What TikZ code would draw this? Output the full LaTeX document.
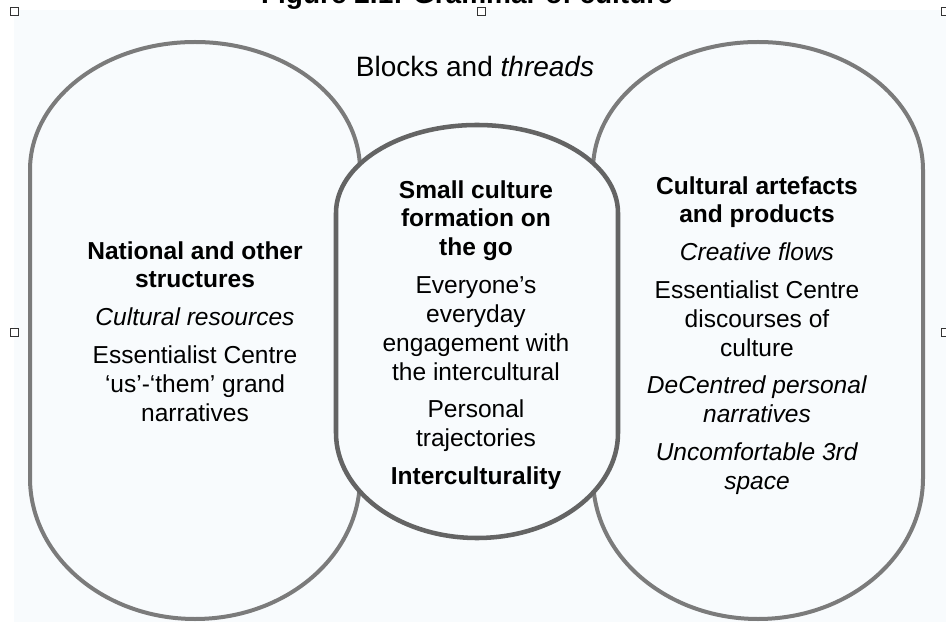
\documentclass[tikz,border=0pt]{standalone}
\usepackage{fontspec}
\setmainfont{Liberation Sans}
\usepackage{xcolor}
\usepackage{tikz}
\usetikzlibrary{positioning}
\definecolor{pale}{HTML}{F8FBFD}
\definecolor{rim}{HTML}{7B7B7B}
\definecolor{rimdark}{HTML}{646464}
\tikzstyle{blob}=[draw=rim, line width=3pt, fill=pale]
\tikzstyle{txt}=[align=center, inner sep=0pt, font=\fontsize{18.4}{21.7}\selectfont]
\tikzstyle{handle}=[draw=black!80, fill=white, line width=0.6pt, minimum size=6pt, inner sep=0pt]

\begin{document}
\begin{tikzpicture}[x=0.75pt,y=0.75pt]
				\useasboundingbox (0,0) rectangle (946,622);
				\fill[white] (0,0) rectangle (946,622);
				\fill[pale] (14,0) rectangle (946,612);
				% caption, mostly off the top edge
				\node[anchor=base, inner sep=0pt, font=\bfseries\fontsize{21}{25}\selectfont] (title) at (467,618) {Figure 2.1: Grammar of culture};
				% the two outer blocks
				\draw[blob] (30,452) arc[start angle=180, end angle=0, x radius=165, y radius=128] -- (360,144) arc[start angle=0, end angle=-180, x radius=165, y radius=141] -- cycle;
				\draw[blob] (593,452) arc[start angle=180, end angle=0, x radius=165, y radius=128] -- (923,144) arc[start angle=0, end angle=-180, x radius=165, y radius=141] -- cycle;
				% the thread in the middle, on top
				\draw[blob, draw=rimdark, line width=3.4pt] (336,409) arc[start angle=180, end angle=0, x radius=141, y radius=88] -- (618,189) arc[start angle=0, end angle=-180, x radius=141, y radius=105] -- cycle;
				\node[anchor=base, inner sep=0pt, font=\fontsize{21}{25}\selectfont] (blocks) at (475,545) {Blocks and \textit{threads}};
				\node[txt, anchor=north] (structures) at (195,381) {\textbf{National and other}\\\textbf{structures}\\[6.5pt]\textit{Cultural resources}\\[6.5pt]Essentialist Centre\\‘us’-‘them’ grand\\narratives};
				\node[txt, anchor=north] (smallculture) at (476,442) {\textbf{Small culture}\\\textbf{formation on}\\\textbf{the go}\\[6.5pt]Everyone’s\\everyday\\engagement with\\the intercultural\\[6.5pt]Personal\\trajectories\\[6.5pt]\textbf{Interculturality}};
				\node[txt, anchor=north] (artefacts) at (757,446) {\textbf{Cultural artefacts}\\\textbf{and products}\\[6.5pt]\textit{Creative flows}\\[6.5pt]Essentialist Centre\\discourses of\\culture\\[6.5pt]\textit{DeCentred personal}\\\textit{narratives}\\[6.5pt]\textit{Uncomfortable 3rd}\\\textit{space}};
				% selection handles
				\node[handle] (h1) at (14.5,611) {};
				\node[handle] (h2) at (481,610.5) {};
				\node[handle] (h3) at (945,611) {};
				\node[handle] (h4) at (14.5,290) {};
				\node[handle] (h5) at (945,290) {};
			\end{tikzpicture}
\end{document}
